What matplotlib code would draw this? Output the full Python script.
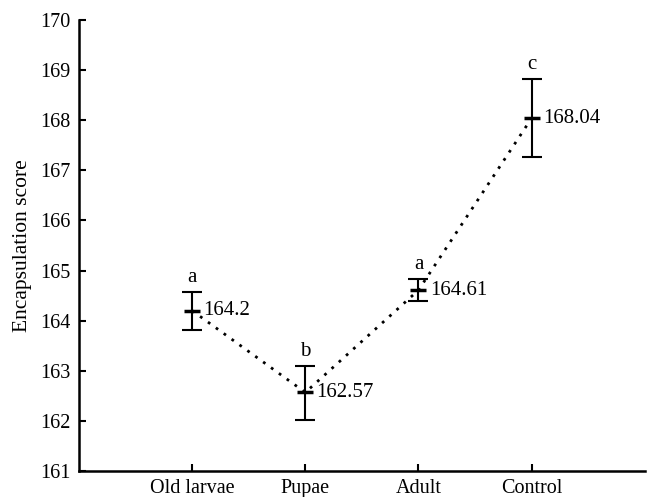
import numpy as np
import matplotlib
matplotlib.use("Agg")
import matplotlib.pyplot as plt

# Values
stages = ["Old larvae", "Pupae", "Adult", "Control"]
means = [164.2, 162.57, 164.61, 168.04]
upper = [164.57, 163.10, 164.83, 168.83]
lower = [163.81, 162.02, 164.40, 167.27]
letters = ["a", "b", "a", "c"]
mean_labels = ["164.2", "162.57", "164.61", "168.04"]

plt.rcParams["font.family"] = ["Liberation Serif", "DejaVu Serif"]

fig = plt.figure(figsize=(6.48, 4.97), dpi=100)
ax = fig.add_axes([0.122, 0.052, 0.873, 0.908])

x = np.arange(1, len(stages) + 1)
m = np.array(means)
yerr = np.vstack([m - np.array(lower), np.array(upper) - m])

ax.plot(x, m, linestyle=(0, (1, 2.5)), color="black", lw=2.0, zorder=1)
ax.errorbar(x, m, yerr=yerr, fmt="none", ecolor="black", elinewidth=1.5,
            capsize=7, capthick=1.5, zorder=2)
ax.plot(x, m, marker="_", ms=12, mew=2.5, ls="none", color="black", zorder=3)

for xi, mi, up, lab, let in zip(x, m, upper, mean_labels, letters):
    ax.text(xi + 0.1, mi, lab, ha="left", va="center", fontsize=15)
    ax.text(xi, up + 0.1, let, ha="center", va="bottom", fontsize=15)

ax.set_xlim(0, 5)
ax.set_ylim(161, 170)
ax.set_xticks(x)
ax.set_xticklabels(stages)
ax.set_yticks(np.arange(161, 171, 1))
ax.set_ylabel("Encapsulation score", fontsize=15.5, labelpad=6)

for s in ["top", "right"]:
    ax.spines[s].set_visible(False)
for s in ["left", "bottom"]:
    ax.spines[s].set_linewidth(1.8)
ax.tick_params(direction="in", length=5, width=1.5, labelsize=14.5, pad=6)

fig.savefig("out.png", dpi=100)
